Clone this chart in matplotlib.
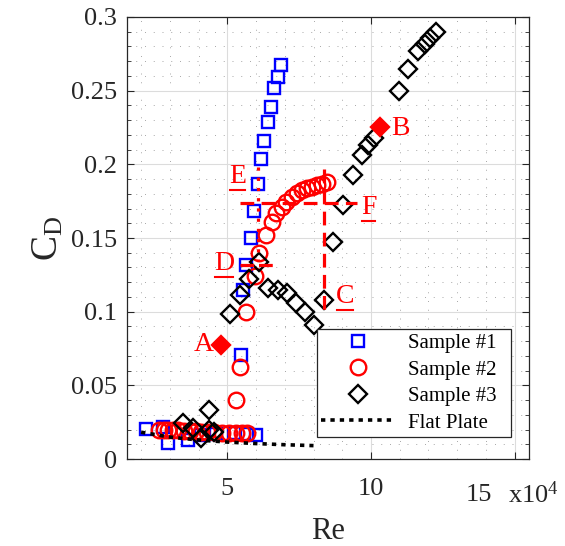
import matplotlib
matplotlib.use("Agg")
import matplotlib.pyplot as plt
from matplotlib.lines import Line2D
from matplotlib.transforms import IdentityTransform
import numpy as np

plt.rcParams['font.family'] = ['Liberation Serif', 'DejaVu Serif']
plt.rcParams['mathtext.fontset'] = 'custom'
plt.rcParams['mathtext.rm'] = 'Liberation Serif'
plt.rcParams['mathtext.it'] = 'Liberation Serif:italic'

# Reynolds number (x 1e4) and drag coefficient for each sample
re_s1 = [2.17, 2.75, 2.92, 3.62, 4.10, 4.60, 5.25, 5.70, 6.01,
         5.49, 5.55, 5.66, 5.81, 5.92, 6.07, 6.16, 6.28, 6.40, 6.51, 6.63, 6.75, 6.86]
cd_s1 = [0.0202, 0.0220, 0.0107, 0.0129, 0.0160, 0.0170, 0.0175, 0.0170, 0.0163,
         0.0706, 0.1145, 0.1317, 0.1499, 0.1686, 0.1865, 0.2037, 0.2160, 0.2284, 0.2386, 0.2520, 0.2596, 0.2675]

re_s2 = [2.62, 2.78, 2.95, 3.10, 3.30, 3.50, 3.70, 3.90, 4.10, 4.30, 4.55, 4.80, 5.05, 5.30, 5.50, 5.70,
         5.31, 5.43, 5.65, 5.96, 6.11, 6.34, 6.54, 6.71, 6.89, 7.04, 7.24, 7.41, 7.59, 7.76, 7.94, 8.11, 8.29, 8.46]
cd_s2 = [0.0195, 0.0200, 0.0198, 0.0200, 0.0196, 0.0193, 0.0190, 0.0188, 0.0185, 0.0183, 0.0180, 0.0178,
         0.0177, 0.0176, 0.0175, 0.0175,
         0.0400, 0.0627, 0.0996, 0.1242, 0.1400, 0.1520, 0.1611, 0.1672, 0.1713, 0.1747, 0.1777, 0.1804,
         0.1827, 0.1838, 0.1849, 0.1860, 0.1867, 0.1879]

re_s3 = [3.45, 3.80, 4.09, 4.38, 4.38, 4.55,
         5.10, 5.45, 5.75, 6.10,
         6.40, 6.75, 7.08, 7.38, 7.70, 8.00,
         8.37, 8.69, 9.02, 9.36, 9.69, 9.90, 10.09, 10.97, 11.29, 11.64, 11.87, 12.05, 12.28]
cd_s3 = [0.0242, 0.0208, 0.0140, 0.0197, 0.0333, 0.0185,
         0.0985, 0.1110, 0.1225, 0.1335,
         0.1160, 0.1145, 0.1130, 0.1060, 0.1000, 0.0910,
         0.1080, 0.1476, 0.1725, 0.1928, 0.2064, 0.2132, 0.2177, 0.2500, 0.2648, 0.2766, 0.2818, 0.2856, 0.2900]

# highlighted states of sample #3
re_pts = [4.79, 10.33]
cd_pts = [0.0774, 0.2256]

# laminar flat-plate reference
re_fp = [2.0, 3.0, 4.0, 5.0, 6.0, 7.0, 8.0]
cd_fp = [0.0182, 0.0149, 0.0129, 0.0115, 0.0105, 0.0097, 0.0091]

# reference levels marked on the plot
re_E, cd_E_top, cd_E_bot = 6.07, 0.1985, 0.135
cd_F, re_F_left, re_F_right = 0.1735, 5.45, 9.50
re_C, cd_C_top, cd_C_bot = 8.35, 0.197, 0.100
cd_D, re_D_left, re_D_right = 0.1317, 5.45, 6.65

fig = plt.figure(figsize=(5.65, 5.46), dpi=100)
ax = fig.add_axes([0.2243, 0.1593, 0.712, 0.8096])

ax.set_xlim(1.5, 15.5)
ax.set_ylim(0, 0.3)

ms_kw = dict(linestyle='none', markeredgewidth=1.7, markerfacecolor='none')
ax.plot(re_s1, cd_s1, marker='s', markersize=9.3, markeredgecolor='#0000ff', label='Sample #1', zorder=3, **ms_kw)
ax.plot(re_s2, cd_s2, marker='o', markersize=11.2, markeredgecolor='#ff0000', label='Sample #2', zorder=4, **ms_kw)
ax.plot(re_s3, cd_s3, marker='D', markersize=9, markeredgecolor='black', label='Sample #3', zorder=5, **ms_kw)
ax.plot(re_fp, cd_fp, color='black', linewidth=2.6, linestyle=(0, (1.2, 1.4)), label='Flat Plate', zorder=6)

red = '#ff0000'
ax.plot([re_E, re_E], [cd_E_top, cd_E_bot], color=red, linewidth=2.3, linestyle=(0, (1, 2.2)), zorder=7)
ax.plot([re_F_left, re_F_right], [cd_F, cd_F], color=red, linewidth=2.3, linestyle=(0, (4.3, 2.3)), zorder=7)
ax.plot([re_C, re_C], [cd_C_top, cd_C_bot], color=red, linewidth=2.3, linestyle=(0, (4.3, 2.3)), zorder=7)
ax.plot([re_D_left, re_D_right], [cd_D, cd_D], color=red, linewidth=2.3, linestyle=(0, (4.3, 1.5)), zorder=7)

ax.plot(re_pts, cd_pts, linestyle='none', marker='D', markersize=9, markerfacecolor=red,
        markeredgecolor=red, markeredgewidth=1.7, zorder=8)

lab_kw = dict(color=red, fontsize=20, ha='center', va='center', zorder=9)
texts = []
ax.text(4.18, 0.0774, 'A', **lab_kw)
ax.text(11.02, 0.2245, 'B', **lab_kw)
texts.append(ax.text(9.10, 0.1100, 'C', **lab_kw))
texts.append(ax.text(4.90, 0.1325, 'D', **lab_kw))
texts.append(ax.text(5.37, 0.1915, 'E', **lab_kw))
texts.append(ax.text(9.92, 0.1710, 'F', **lab_kw))

# ticks and grid
ax.set_xticks([5, 10, 15])
ax.set_xticklabels(['5', '10', ''])
ax.set_xticks(np.arange(2, 16, 1), minor=True)
ax.set_yticks(np.arange(0, 0.301, 0.05))
ax.set_yticklabels(['0', '0.05', '0.1', '0.15', '0.2', '0.25', '0.3'])
ax.set_yticks(np.arange(0, 0.301, 0.01), minor=True)
ax.tick_params(which='both', direction='in', top=True, right=True, colors='#262626', labelcolor='#262626')
ax.tick_params(which='major', length=5, width=0.8, labelsize=19)
ax.tick_params(which='minor', length=3, width=0.6)
ax.tick_params(axis='x', which='major', pad=14)
ax.tick_params(axis='y', which='major', pad=7)
ax.tick_params(axis='x', which='minor', length=0)
ax.grid(True, which='major', color='#dcdcdc', linewidth=0.8, linestyle='-')
ax.grid(True, which='minor', color='#a8a8a8', linewidth=0.7, linestyle=(0, (1, 8)))
ax.set_axisbelow(True)
for s in ax.spines.values():
    s.set_color('#262626')
    s.set_linewidth(0.9)

ax.set_xlabel('Re', fontsize=22, color='#262626', labelpad=12)
ax.set_ylabel(r'C$_\mathrm{D}$', fontsize=27, color='#262626', labelpad=4)

fig.text(479 / 565, 1 - 495 / 546, '15', fontsize=19, color='#262626', ha='center', va='center')
fig.text(508 / 565, 1 - 495 / 546, r'x10$^4$', fontsize=19, color='#262626', ha='left', va='center')

leg = ax.legend(loc='lower left', bbox_to_anchor=(0.472, 0.0505, 0.483, 0.2545), mode='expand',
                borderaxespad=0, fontsize=15, handlelength=3.6, handletextpad=0.6,
                labelspacing=0.33, borderpad=0.2, fancybox=False, framealpha=1)
leg.get_frame().set_edgecolor('#262626')
leg.get_frame().set_linewidth(0.9)
leg.set_zorder(20)

# underline the state labels C-F
fig.canvas.draw()
renderer = fig.canvas.get_renderer()
for t in texts:
    bb = t.get_window_extent(renderer)
    y = bb.y0 - 1
    fig.add_artist(Line2D([bb.x0 + 1, bb.x1 - 1], [y, y], color=red, linewidth=1.5,
                          transform=IdentityTransform()))

fig.savefig('out.png', dpi=100)
